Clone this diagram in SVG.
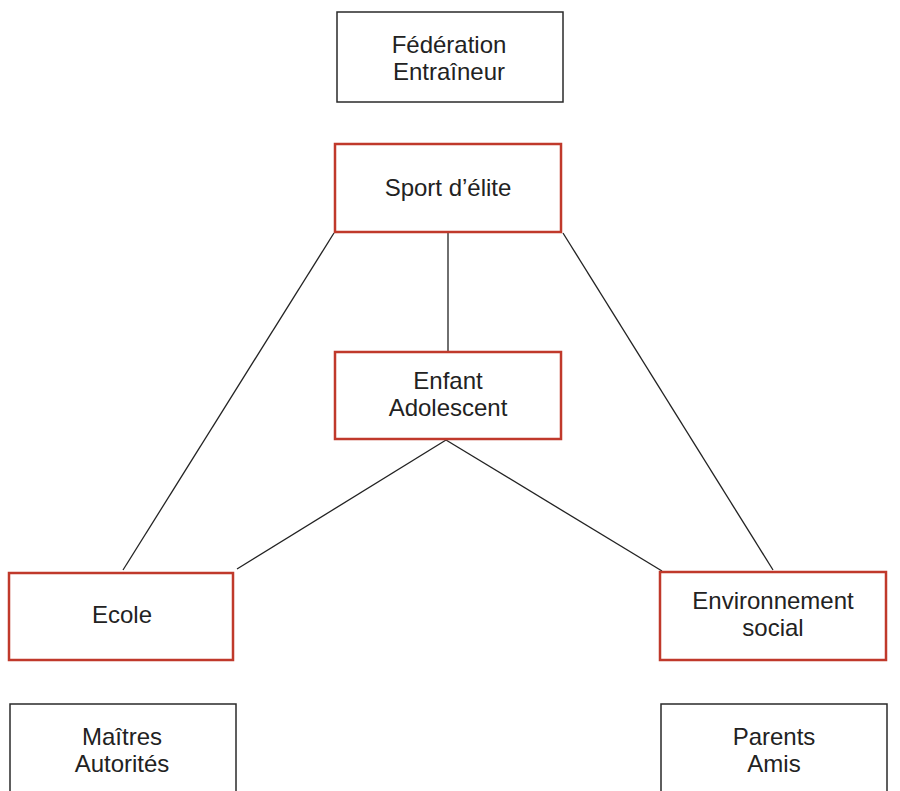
<svg xmlns="http://www.w3.org/2000/svg" width="900" height="791" viewBox="0 0 900 791">
<style>
.bk{fill:#fff;stroke:#2a2a2a;stroke-width:1.5}
.rd{fill:#fff;stroke:#c0392b;stroke-width:2.5}
text{font-family:"Liberation Sans",Arial,sans-serif;font-size:24px;fill:#222;text-anchor:middle}
.c line{stroke:#222;stroke-width:1.3}
</style>
<rect width="900" height="791" fill="#fff"/>
<g class="c" id="connectors">
<line x1="334" y1="233" x2="123" y2="570"/>
<line x1="448" y1="233" x2="448" y2="352"/>
<line x1="563" y1="233" x2="773" y2="570"/>
<line x1="446" y1="440" x2="237" y2="569"/>
<line x1="446" y1="440" x2="662" y2="571"/>
</g>
<g id="federation"><rect class="bk" x="337" y="12" width="226" height="90"/><text x="449" y="53">Fédération</text><text x="449" y="80">Entraîneur</text></g>
<g id="sport"><rect class="rd" x="335" y="144" width="226" height="88"/><text x="448" y="196">Sport d’élite</text></g>
<g id="enfant"><rect class="rd" x="335" y="352" width="226" height="87"/><text x="448" y="389">Enfant</text><text x="448" y="416">Adolescent</text></g>
<g id="ecole"><rect class="rd" x="9" y="573" width="224" height="87"/><text x="122" y="623">Ecole</text></g>
<g id="environnement"><rect class="rd" x="660" y="572" width="226" height="88"/><text x="773" y="609">Environnement</text><text x="773" y="636">social</text></g>
<g id="maitres"><rect class="bk" x="10" y="704" width="226" height="100"/><text x="122" y="745">Maîtres</text><text x="122" y="772">Autorités</text></g>
<g id="parents"><rect class="bk" x="661" y="704" width="226" height="100"/><text x="774" y="745">Parents</text><text x="774" y="772">Amis</text></g>
</svg>
